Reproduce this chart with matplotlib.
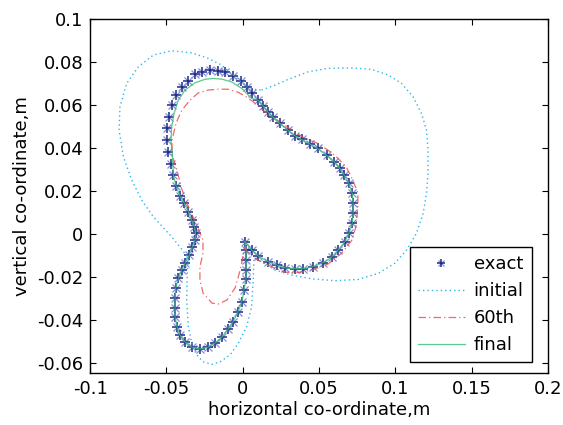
import numpy as np
import matplotlib
matplotlib.use('Agg')
import matplotlib.pyplot as plt

plt.rcParams['font.family'] = ['DejaVu Sans']
plt.rcParams['axes.unicode_minus'] = False

# exact boundary (marker positions), clockwise from the cusp
exact_x = [0.0015, 0.0059, 0.0102, 0.0168, 0.0223, 0.0277, 0.0343, 0.0397, 0.0462, 0.0528,
           0.0583, 0.0626, 0.0670, 0.0696, 0.0718, 0.0724, 0.0724, 0.0718, 0.0696, 0.0665,
           0.0637, 0.0600, 0.0550, 0.0491, 0.0441, 0.0386, 0.0343, 0.0295, 0.0244, 0.0200,
           0.0164, 0.0135, 0.0102, 0.0063, 0.0026, -0.0013, -0.0062, -0.0116, -0.0160, -0.0214,
           -0.0265, -0.0312, -0.0356, -0.0396, -0.0437, -0.0465, -0.0483, -0.0494, -0.0494, -0.0487,
           -0.0470, -0.0454, -0.0437, -0.0411, -0.0382, -0.0356, -0.0334, -0.0317, -0.0308, -0.0312,
           -0.0330, -0.0350, -0.0378, -0.0399, -0.0422, -0.0439, -0.0443, -0.0443, -0.0443, -0.0430,
           -0.0411, -0.0378, -0.0332, -0.0280, -0.0227, -0.0181, -0.0136, -0.0096, -0.0064, -0.0031,
           -0.0005, 0.0009, 0.0022, 0.0022, 0.0022, 0.0022]
exact_y = [-0.0036, -0.0074, -0.0102, -0.0129, -0.0144, -0.0157, -0.0161, -0.0161, -0.0152, -0.0133,
           -0.0108, -0.0074, -0.0036, 0.0003, 0.0050, 0.0096, 0.0143, 0.0189, 0.0236, 0.0274,
           0.0306, 0.0336, 0.0367, 0.0399, 0.0419, 0.0440, 0.0457, 0.0484, 0.0515, 0.0543,
           0.0569, 0.0595, 0.0623, 0.0654, 0.0685, 0.0713, 0.0735, 0.0752, 0.0760, 0.0763,
           0.0755, 0.0743, 0.0713, 0.0682, 0.0647, 0.0600, 0.0546, 0.0492, 0.0437, 0.0383,
           0.0326, 0.0274, 0.0225, 0.0177, 0.0143, 0.0104, 0.0065, 0.0034, 0.0006, -0.0028,
           -0.0059, -0.0098, -0.0136, -0.0167, -0.0206, -0.0253, -0.0299, -0.0346, -0.0386, -0.0433,
           -0.0470, -0.0502, -0.0526, -0.0535, -0.0526, -0.0507, -0.0479, -0.0442, -0.0409, -0.0363,
           -0.0316, -0.0260, -0.0209, -0.0167, -0.0121, -0.0074]

# initial guess
init_x = [0.0124, 0.0212, 0.0299, 0.0430, 0.0561, 0.0714, 0.0845, 0.0954, 0.1041, 0.1117,
          0.1172, 0.1205, 0.1215, 0.1215, 0.1205, 0.1183, 0.1139, 0.1074, 0.0997, 0.0888,
          0.0757, 0.0604, 0.0452, 0.0321, 0.0212, 0.0124, 0.0074, 0.0069, 0.0059, 0.0026,
          -0.0029, -0.0083, -0.0149, -0.0203, -0.0260, -0.0306, -0.0334, -0.0356, -0.0367, -0.0363,
          -0.0356, -0.0411, -0.0465, -0.0585, -0.0661, -0.0727, -0.0782, -0.0810, -0.0804, -0.0760,
          -0.0684, -0.0585, -0.0465, -0.0334, -0.0225, -0.0138, -0.0050, 0.0026, 0.0081, 0.0124]
init_y = [0.0670, 0.0693, 0.0720, 0.0755, 0.0771, 0.0773, 0.0766, 0.0740, 0.0701, 0.0639,
          0.0561, 0.0484, 0.0391, 0.0282, 0.0189, 0.0096, 0.0003, -0.0074, -0.0136, -0.0183,
          -0.0211, -0.0217, -0.0208, -0.0191, -0.0167, -0.0129, -0.0112, -0.0214, -0.0338, -0.0431,
          -0.0508, -0.0563, -0.0595, -0.0606, -0.0594, -0.0558, -0.0507, -0.0431, -0.0307, -0.0183,
          -0.0112, -0.0060, -0.0013, 0.0080, 0.0158, 0.0251, 0.0360, 0.0484, 0.0592, 0.0701,
          0.0778, 0.0833, 0.0853, 0.0843, 0.0817, 0.0786, 0.0732, 0.0685, 0.0673, 0.0670]

# 60th iteration
it60_x = [0.0015, 0.0035, 0.0100, 0.0192, 0.0277, 0.0343, 0.0454, 0.0559, 0.0650, 0.0716,
          0.0742, 0.0755, 0.0755, 0.0722, 0.0683, 0.0624, 0.0559, 0.0487, 0.0395, 0.0323,
          0.0257, 0.0192, 0.0133, 0.0081, 0.0028, -0.0031, -0.0096, -0.0162, -0.0227, -0.0293,
          -0.0345, -0.0398, -0.0437, -0.0463, -0.0463, -0.0430, -0.0404, -0.0365, -0.0325, -0.0293,
          -0.0260, -0.0260, -0.0280, -0.0280, -0.0260, -0.0201, -0.0162, -0.0103, -0.0050, -0.0031,
          -0.0011, 0.0002, 0.0015]
it60_y = [-0.0060, -0.0088, -0.0121, -0.0153, -0.0177, -0.0181, -0.0167, -0.0140, -0.0088, -0.0028,
          0.0033, 0.0126, 0.0191, 0.0251, 0.0307, 0.0353, 0.0391, 0.0423, 0.0451, 0.0484,
          0.0516, 0.0544, 0.0577, 0.0609, 0.0637, 0.0660, 0.0674, 0.0674, 0.0670, 0.0656,
          0.0623, 0.0577, 0.0516, 0.0437, 0.0367, 0.0298, 0.0219, 0.0144, 0.0079, 0.0028,
          -0.0028, -0.0088, -0.0153, -0.0214, -0.0274, -0.0321, -0.0326, -0.0307, -0.0251, -0.0205,
          -0.0153, -0.0098, -0.0060]

# final iteration
final_x = [0.0015, 0.0059, 0.0102, 0.0168, 0.0223, 0.0277, 0.0343, 0.0397, 0.0462, 0.0528,
           0.0583, 0.0626, 0.0670, 0.0696, 0.0718, 0.0724, 0.0724, 0.0718, 0.0696, 0.0665,
           0.0637, 0.0600, 0.0550, 0.0491, 0.0441, 0.0386, 0.0343, 0.0295, 0.0244, 0.0200,
           0.0164, 0.0135, 0.0102, 0.0059, -0.0007, -0.0072, -0.0138, -0.0193, -0.0247, -0.0312,
           -0.0378, -0.0422, -0.0450, -0.0465, -0.0470, -0.0461, -0.0454, -0.0437, -0.0411, -0.0382,
           -0.0356, -0.0334, -0.0317, -0.0308, -0.0312, -0.0330, -0.0350, -0.0378, -0.0399, -0.0422,
           -0.0439, -0.0443, -0.0443, -0.0443, -0.0430, -0.0411, -0.0378, -0.0332, -0.0280, -0.0227,
           -0.0181, -0.0136, -0.0096, -0.0064, -0.0031, -0.0005, 0.0009, 0.0022, 0.0022, 0.0022,
           0.0022, 0.0015]
final_y = [-0.0036, -0.0074, -0.0102, -0.0129, -0.0144, -0.0157, -0.0161, -0.0161, -0.0152, -0.0133,
           -0.0108, -0.0074, -0.0036, 0.0003, 0.0050, 0.0096, 0.0143, 0.0189, 0.0236, 0.0274,
           0.0306, 0.0336, 0.0367, 0.0399, 0.0419, 0.0440, 0.0457, 0.0484, 0.0515, 0.0543,
           0.0569, 0.0595, 0.0623, 0.0631, 0.0678, 0.0708, 0.0721, 0.0724, 0.0720, 0.0704,
           0.0670, 0.0623, 0.0561, 0.0499, 0.0437, 0.0375, 0.0274, 0.0225, 0.0177, 0.0143,
           0.0104, 0.0065, 0.0034, 0.0006, -0.0028, -0.0059, -0.0098, -0.0136, -0.0167, -0.0206,
           -0.0253, -0.0299, -0.0346, -0.0386, -0.0433, -0.0470, -0.0502, -0.0526, -0.0535, -0.0526,
           -0.0507, -0.0479, -0.0442, -0.0409, -0.0363, -0.0316, -0.0260, -0.0209, -0.0167, -0.0121,
           -0.0074, -0.0036]

xticks = [-0.1, -0.05, 0, 0.05, 0.1, 0.15, 0.2]
xticklabels = ['-0.1', '-0.05', '0', '0.05', '0.1', '0.15', '0.2']
yticks = [-0.06, -0.04, -0.02, 0, 0.02, 0.04, 0.06, 0.08, 0.1]
yticklabels = ['-0.06', '-0.04', '-0.02', '0', '0.02', '0.04', '0.06', '0.08', '0.1']

fig = plt.figure(figsize=(5.63, 4.25), dpi=100)
ax = fig.add_axes([0.160, 0.122, 0.813, 0.833])

navy = '#1c2a8c'
# matlab-like asterisk = plus + cross
h_x, = ax.plot(exact_x, exact_y, ls='none', marker='x', ms=5.5, mew=0.9, color='#8890cc')
h_p, = ax.plot(exact_x, exact_y, ls='none', marker='+', ms=7.5, mew=1.1, color=navy)
h_i, = ax.plot(init_x, init_y, ls=(0, (1, 2.2)), lw=1.0, color='#2cb7ea')
h_6, = ax.plot(it60_x, it60_y, ls=(0, (6, 2.5, 1, 2.5)), lw=0.9, color='#ee4444', alpha=0.8)
h_f, = ax.plot(final_x, final_y, ls='-', lw=0.9, color='#3cc07a', alpha=0.85)

ax.set_xlim(-0.1, 0.2)
ax.set_ylim(-0.0647, 0.1)
ax.set_xticks(xticks)
ax.set_xticklabels(xticklabels)
ax.set_yticks(yticks)
ax.set_yticklabels(yticklabels)
ax.tick_params(direction='in', top=True, right=True, length=4, width=0.8, labelsize=13, pad=5)
for s in ax.spines.values():
    s.set_linewidth(1.0)

ax.set_xlabel('horizontal co-ordinate,m', fontsize=13, labelpad=2)
ax.set_ylabel('vertical co-ordinate,m', fontsize=13, labelpad=4)

leg = ax.legend([(h_x, h_p), h_i, h_6, h_f], ['exact', 'initial', '60th', 'final'],
                loc='lower right', bbox_to_anchor=(0.965, 0.031), fontsize=13,
                fancybox=False, framealpha=1, edgecolor='black', handlelength=2.6,
                markerscale=0.7, borderpad=0.45, labelspacing=0.5, handletextpad=0.5,
                borderaxespad=0)
leg.get_frame().set_linewidth(1.0)

fig.savefig('out.png', dpi=100)
